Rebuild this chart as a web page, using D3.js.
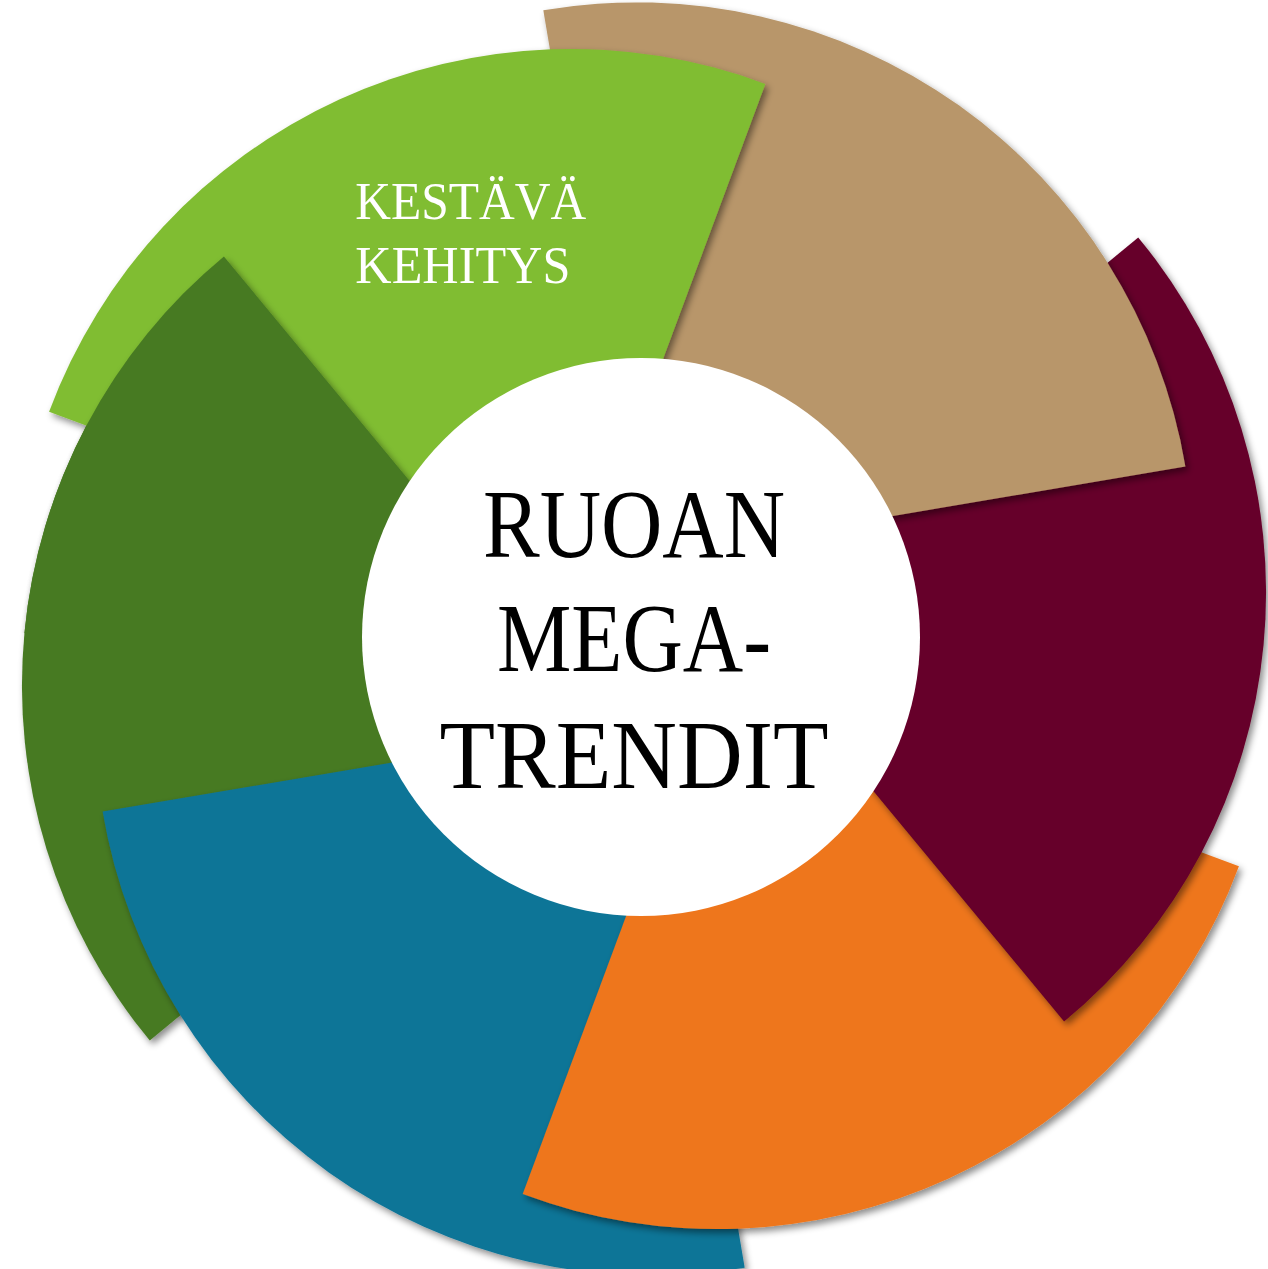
<!DOCTYPE html>
<html>
<head>
<meta charset="utf-8">
<script src="https://cdn.jsdelivr.net/npm/d3@7"></script>
<style>
  html, body { margin: 0; padding: 0; background: #ffffff; }
  svg { display: block; }
</style>
</head>
<body>
<script>
// ---------- data ----------
const categories = ["Kestävä kehitys", "Trendi 2", "Trendi 3", "Trendi 4", "Trendi 5", "Trendi 6"];
const values = [1, 1, 1, 1, 1, 1];
const colors = ["#80bd32", "#b8966a", "#66002a", "#ee761b", "#117497", "#477a23"];
const segmentLabels = [["KESTÄVÄ", "KEHITYS"], [], [], [], [], []];
const titleLines = ["RUOAN", "MEGA-", "TRENDIT"];

// ---------- layout ----------
const W = 1268, H = 1269;
const cx = 644, cy = 639;          // pinwheel centre
const R = 557;                     // segment radius
const shift = 80;                  // outward shift of each segment
const shiftTurn = 4 * Math.PI / 180;
const overlap = 30 * Math.PI / 180;
const startA = (200.4 + 90) * Math.PI / 180;   // d3 angle of first segment start
const hole = { x: 641, y: 637, r: 279 };

const svg = d3.select("body").append("svg")
  .attr("width", W).attr("height", H).attr("viewBox", `0 0 ${W} ${H}`);

svg.append("rect").attr("width", W).attr("height", H).attr("fill", "#fff");

const defs = svg.append("defs");
const f = defs.append("filter").attr("id", "sh")
  .attr("x", "-20%").attr("y", "-20%").attr("width", "140%").attr("height", "140%");
f.append("feDropShadow").attr("dx", 3).attr("dy", 4).attr("stdDeviation", 3.5)
  .attr("flood-color", "#000").attr("flood-opacity", 0.45);

const pie = d3.pie().sort(null).value(d => d)
  .startAngle(startA).endAngle(startA + 2 * Math.PI);
const arcs = pie(values).map((p, i) => {
  const a = p.startAngle + shiftTurn;
  return {
    i,
    name: categories[i],
    color: colors[i],
    startAngle: p.startAngle,
    endAngle: p.endAngle + overlap,
    ox: cx + shift * Math.sin(a),
    oy: cy - shift * Math.cos(a)
  };
});

const arcGen = d3.arc().innerRadius(0).outerRadius(R);

// draw order: last segment at bottom ... first on top
const order = d3.range(arcs.length).reverse();
const gSeg = svg.append("g");
order.forEach(i => {
  const d = arcs[i];
  gSeg.append("path")
    .attr("transform", `translate(${d.ox},${d.oy})`)
    .attr("d", arcGen(d))
    .attr("fill", d.color)
    .attr("filter", "url(#sh)");
});

// close the cycle: the end of the last segment lies over the start of the first
const last = arcs[arcs.length - 1];
const clipWedge = d3.arc().innerRadius(0).outerRadius(900)
  .startAngle(last.startAngle + Math.PI / 4)
  .endAngle(last.endAngle + Math.PI / 4);
defs.append("clipPath").attr("id", "wedge")
  .append("path")
  .attr("transform", `translate(${last.ox},${last.oy})`)
  .attr("d", clipWedge());
svg.append("g").attr("clip-path", "url(#wedge)")
  .append("path")
  .attr("transform", `translate(${last.ox},${last.oy})`)
  .attr("d", arcGen(last))
  .attr("fill", last.color)
  .attr("filter", "url(#sh)");

// centre disc
svg.append("circle").attr("cx", hole.x).attr("cy", hole.y).attr("r", hole.r)
  .attr("fill", "#ffffff");

// centre title
const serif = "'Liberation Serif', 'DejaVu Serif', serif";
const titleBase = [557, 671, 788];
const titleWidth = [302, 274, 389];
svg.append("g").selectAll("text").data(titleLines).join("text")
  .attr("x", 634)
  .attr("y", (d, i) => titleBase[i])
  .attr("text-anchor", "middle")
  .attr("font-family", serif)
  .attr("font-size", 97)
  .attr("fill", "#000")
  .attr("textLength", (d, i) => titleWidth[i])
  .attr("lengthAdjust", "spacingAndGlyphs")
  .text(d => d);

// segment labels
const labelWidth = [231, 215];
arcs.forEach((d, i) => {
  const lines = segmentLabels[i];
  if (!lines.length) return;
  const a = d.startAngle + 55 * Math.PI / 180;
  const rr = 384;
  const lx = d.ox + rr * Math.sin(a) - 119;
  const ly = d.oy - rr * Math.cos(a);
  svg.append("g").selectAll("text").data(lines).join("text")
    .attr("x", lx)
    .attr("y", (t, j) => ly - 15 + j * 63.5)
    .attr("font-family", serif)
    .attr("font-size", 53)
    .attr("fill", "#fff")
    .attr("textLength", (t, j) => labelWidth[j])
    .attr("lengthAdjust", "spacingAndGlyphs")
    .text(t => t);
});
</script>
</body>
</html>
